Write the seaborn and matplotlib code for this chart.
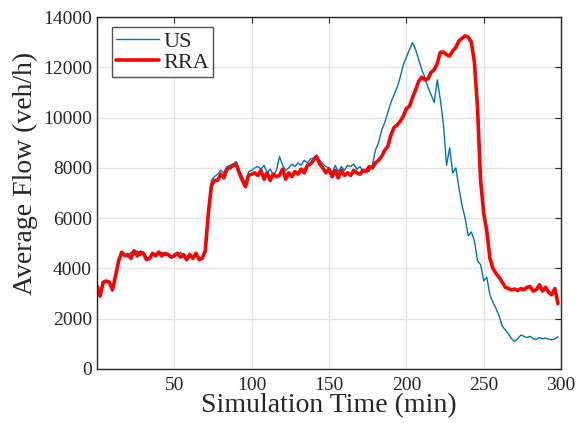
import numpy as np
import pandas as pd
import matplotlib
matplotlib.use('Agg')
import matplotlib.pyplot as plt
import seaborn as sns

# time in minutes, sampled every 2 min
time_min = list(range(0, 300, 2))

rra_flow = [
    3300, 2900, 3450, 3500, 3450, 3150, 3700, 4300, 4650, 4500,
    4550, 4400, 4700, 4500, 4650, 4600, 4350, 4400, 4600, 4500,
    4650, 4500, 4600, 4550, 4450, 4500, 4600, 4450, 4550, 4350,
    4550, 4400, 4600, 4350, 4400, 4700, 6200, 7300, 7500, 7500,
    7750, 7600, 7950, 8000, 8100, 8150, 7800, 7500, 7250, 7700,
    7750, 7800, 7700, 7900, 7550, 7800, 7500, 7750, 7650, 7700,
    7950, 7550, 7800, 7650, 7850, 7750, 7950, 7800, 8100, 8150,
    8300, 8450, 8150, 8000, 7800, 7950, 7650, 7900, 7600, 7900,
    7700, 7800, 7700, 7900, 7800, 7750, 7900, 7850, 8050, 8000,
    8200, 8300, 8450, 8700, 8850, 9300, 9600, 9700, 9850, 10050,
    10350, 10450, 10800, 11100, 11450, 11600, 11500, 11550, 11800, 11900,
    12150, 12600, 12600, 12500, 12450, 12650, 12800, 13050, 13150, 13250,
    13200, 13000, 12200, 10400, 7500, 6200, 5500, 4400, 4000, 3800,
    3650, 3450, 3250, 3200, 3150, 3180, 3120, 3200, 3150, 3250,
    3280, 3100, 3150, 3350, 3100, 3250, 3050, 2950, 3200, 2600,
]

us_flow = [
    3250, 2850, 3400, 3500, 3500, 3100, 3750, 4350, 4600, 4550,
    4450, 4650, 4550, 4700, 4500, 4650, 4400, 4450, 4550, 4600,
    4550, 4650, 4500, 4550, 4400, 4600, 4500, 4650, 4450, 4300,
    4600, 4350, 4550, 4450, 4400, 4600, 6400, 7500, 7650, 7750,
    7900, 7800, 8050, 8100, 8150, 8250, 7900, 7650, 7400, 7850,
    7900, 8000, 8050, 7950, 8100, 7800, 7950, 7700, 7900, 8450,
    8100, 7900, 8000, 8150, 8050, 8200, 8100, 8300, 8200, 8350,
    8400, 8500, 8300, 8150, 8050, 8000, 7800, 8100, 7850, 8050,
    7900, 8100, 8050, 8150, 7950, 8050, 7850, 7900, 7850, 8100,
    8700, 9000, 9500, 9800, 10200, 10600, 10900, 11200, 11600, 12100,
    12400, 12700, 12980, 12700, 12300, 11900, 11600, 11200, 10900, 10600,
    11500, 10700, 9700, 8100, 8800, 7800, 8000, 7200, 6500, 6000,
    5300, 5450, 5100, 4300, 4150, 3500, 3650, 2950, 2650, 2400,
    2100, 1700, 1550, 1400, 1200, 1100, 1200, 1350, 1300, 1250,
    1300, 1200, 1180, 1250, 1200, 1230, 1180, 1160, 1200, 1280,
]

df = pd.DataFrame({'Time': time_min, 'US': us_flow, 'RRA': rra_flow})

sns.set_style('white')
plt.rcParams['font.family'] = ['Liberation Serif', 'DejaVu Serif']

fig = plt.figure(figsize=(5.79, 4.23), dpi=100)
ax = fig.add_axes([0.1675, 0.1277, 0.8015, 0.8321])

sns.lineplot(data=df, x='Time', y='US', ax=ax, color='#0072BD', linewidth=1.0, label='US')
sns.lineplot(data=df, x='Time', y='RRA', ax=ax, color='#FF0000', linewidth=2.6, label='RRA')

ax.set_xlim(0, 300)
ax.set_ylim(0, 14000)
ax.set_xticks(range(0, 301, 50))
ax.set_xticklabels([''] + [str(v) for v in range(50, 301, 50)])
ax.set_yticks(range(0, 14001, 2000))
ax.grid(True, color='#e3e3e3', linewidth=1.0)
ax.set_axisbelow(True)
ax.tick_params(direction='in', length=4, width=0.8, labelsize=14, color='#262626',
               top=True, right=True, labelcolor='#262626')
ax.tick_params(axis='x', pad=6)
for sp in ax.spines.values():
    sp.set_color('#262626')
    sp.set_linewidth(1.0)

ax.set_xlabel('Simulation Time (min)', fontsize=20, labelpad=-1, color='#262626')
ax.set_ylabel('Average Flow (veh/h)', fontsize=20, color='#262626')
ax.yaxis.set_label_coords(-0.127, 0.555)

leg = ax.legend(loc='upper left', bbox_to_anchor=(0.0323, 0.9716), borderaxespad=0,
                fontsize=16, frameon=True, fancybox=False,
                edgecolor='#262626', handlelength=1.9, handletextpad=0.2,
                borderpad=0.2, labelspacing=0.0)
leg.get_frame().set_linewidth(1.0)

fig.savefig('out.png', dpi=100)
